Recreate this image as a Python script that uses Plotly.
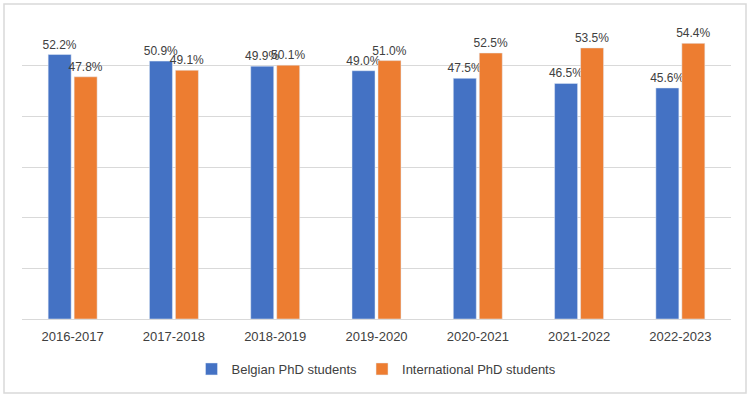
import plotly.graph_objects as go

years = ["2016-2017", "2017-2018", "2018-2019", "2019-2020", "2020-2021", "2021-2022", "2022-2023"]
belgian = [52.2, 50.9, 49.9, 49.0, 47.5, 46.5, 45.6]
international = [47.8, 49.1, 50.1, 51.0, 52.5, 53.5, 54.4]

font_family = "Liberation Sans, Arial, sans-serif"
text_color = "#404040"

fig = go.Figure()
fig.add_trace(go.Bar(
    x=years, y=belgian, name="Belgian PhD students",
    marker_color="#4472C4",
    text=[f"{v:.1f}%" for v in belgian], textposition="outside",
    textfont=dict(size=12, color=text_color, family=font_family),
    cliponaxis=False, constraintext="none",
))
fig.add_trace(go.Bar(
    x=years, y=international, name="International PhD students",
    marker_color="#ED7D31",
    text=[f"{v:.1f}%" for v in international], textposition="outside",
    textfont=dict(size=12, color=text_color, family=font_family),
    cliponaxis=False, constraintext="none",
))

W, H = 751, 397
L, R, T, B = 22, 20, 15, 78
pw, ph = W - L - R, H - T - B

def px_x(x):
    return (x - L) / pw

def px_y(y):
    return (H - B - y) / ph

fig.update_layout(
    width=W, height=H,
    margin=dict(l=L, r=R, t=T, b=B, autoexpand=False),
    paper_bgcolor="white", plot_bgcolor="white",
    barmode="group", bargap=0.487, bargroupgap=0.115,
    font=dict(family=font_family, size=13, color=text_color),
    showlegend=True,
    legend=dict(orientation="h", x=0.5, xanchor="center", y=px_y(369), yanchor="middle",
                font=dict(size=13, color=text_color), traceorder="normal"),
    xaxis=dict(showgrid=False, showline=False, ticks="outside", ticklen=5, tickcolor="rgba(0,0,0,0)",
               tickfont=dict(size=13, color=text_color), automargin=False),
    yaxis=dict(range=[0, 60], dtick=10, showticklabels=False, showgrid=True,
               gridcolor="#d9d9d9", gridwidth=1, zeroline=True, zerolinecolor="#d9d9d9",
               zerolinewidth=1, showline=False, automargin=False),
    shapes=[dict(type="rect", xref="paper", yref="paper",
                 x0=px_x(4), x1=px_x(746), y0=px_y(393), y1=px_y(4),
                 line=dict(color="#d9d9d9", width=1.5), fillcolor="rgba(0,0,0,0)", layer="below")],
)

fig.write_html("out.html", config={"displayModeBar": False},
               post_script="document.body.style.margin='0px';document.body.style.padding='0px';")
